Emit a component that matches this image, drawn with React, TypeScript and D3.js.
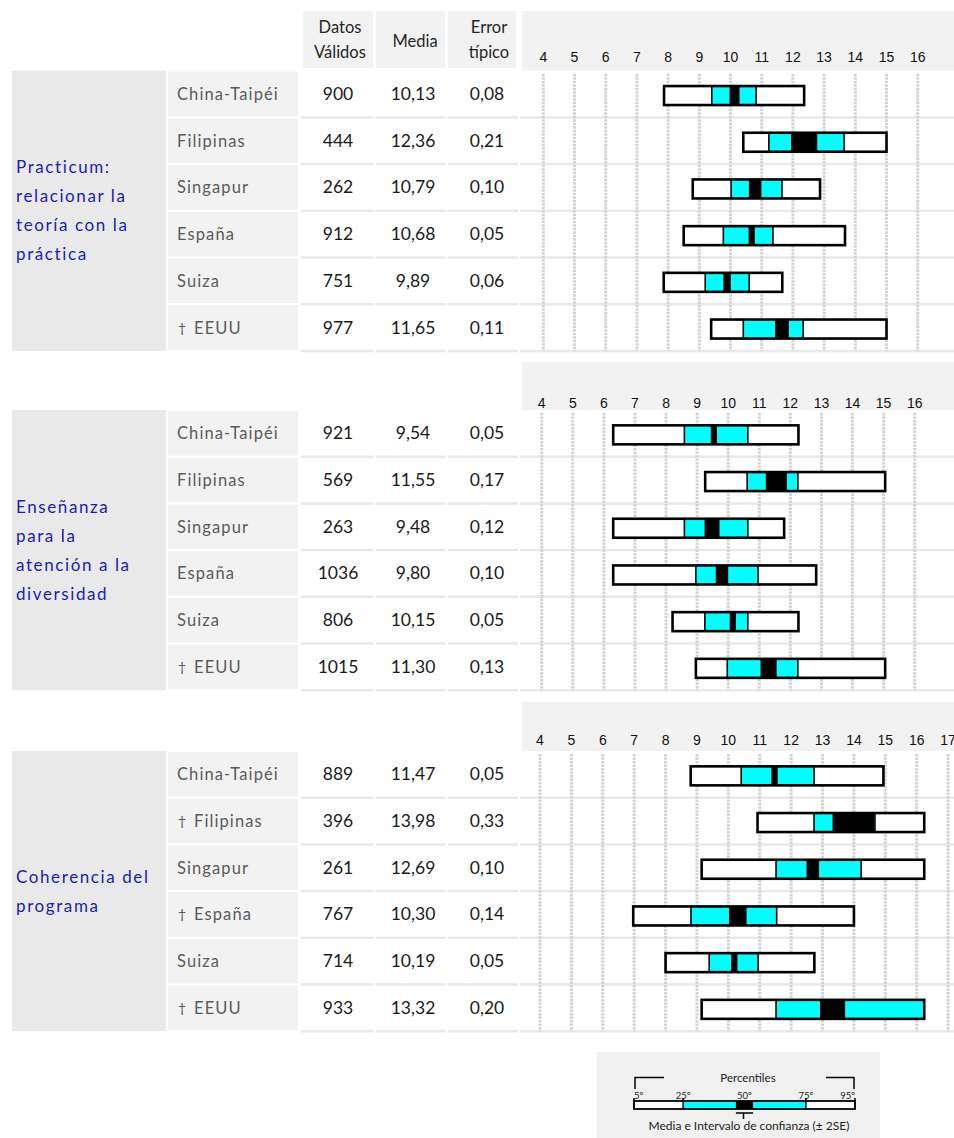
import React from "react";
import * as d3 from "d3";

// ---- data ----
const groupLabels: string[][] = [
  ["Practicum:", "relacionar la", "teoría con la", "práctica"],
  ["Enseñanza", "para la", "atención a la", "diversidad"],
  ["Coherencia del", "programa"],
];

const countryNames: string[][] = [
  ["China-Taipéi", "Filipinas", "Singapur", "España", "Suiza", "EEUU"],
  ["China-Taipéi", "Filipinas", "Singapur", "España", "Suiza", "EEUU"],
  ["China-Taipéi", "Filipinas", "Singapur", "España", "Suiza", "EEUU"],
];

// countries flagged with a dagger
const daggerFlags: boolean[][] = [
  [false, false, false, false, false, true],
  [false, false, false, false, false, true],
  [false, true, false, true, false, true],
];

const validN: number[][] = [
  [900, 444, 262, 912, 751, 977],
  [921, 569, 263, 1036, 806, 1015],
  [889, 396, 261, 767, 714, 933],
];

const means: number[][] = [
  [10.13, 12.36, 10.79, 10.68, 9.89, 11.65],
  [9.54, 11.55, 9.48, 9.8, 10.15, 11.3],
  [11.47, 13.98, 12.69, 10.3, 10.19, 13.32],
];

const stdErrors: number[][] = [
  [0.08, 0.21, 0.1, 0.05, 0.06, 0.11],
  [0.05, 0.17, 0.12, 0.1, 0.05, 0.13],
  [0.05, 0.33, 0.1, 0.14, 0.05, 0.2],
];

const p5: number[][] = [
  [7.87, 10.41, 8.79, 8.5, 7.86, 9.38],
  [6.3, 9.26, 6.3, 6.3, 8.21, 8.96],
  [8.8, 10.93, 9.15, 6.97, 8.0, 9.15],
];
const p25: number[][] = [
  [9.4, 11.23, 10.02, 9.77, 9.19, 10.41],
  [8.59, 10.61, 8.59, 8.96, 9.25, 9.97],
  [10.41, 12.73, 11.52, 8.81, 9.39, 11.52],
];
const p75: number[][] = [
  [10.82, 13.64, 11.65, 11.36, 10.6, 12.33],
  [10.63, 12.24, 10.63, 10.96, 10.63, 12.24],
  [12.73, 14.67, 14.23, 11.54, 10.95, 16.24],
];
const p95: number[][] = [
  [12.36, 15.0, 12.87, 13.67, 11.66, 15.0],
  [12.26, 15.05, 11.8, 12.83, 12.26, 15.05],
  [14.94, 16.24, 16.24, 14.0, 12.74, 16.24],
];

const tickValues: number[][] = [
  d3.range(4, 17),
  d3.range(4, 17),
  d3.range(4, 18),
];

const colHeaders = [["Datos", "Válidos"], ["Media"], ["Error", "típico"]];

// ---- layout ----
const W = 954;
const H = 1138;
const ROW_H = 46.7;
const panelLayout = [
  { headTop: 11, rowsTop: 70.7, x0: 543.3, x16: 917.7, tickY: 61.5 },
  { headTop: 362, rowsTop: 410, x0: 541.7, x16: 914.7, tickY: 408 },
  { headTop: 702, rowsTop: 751, x0: 540, x16: 916.7, tickY: 744.5 },
];
const CAT_X0 = 12, CAT_X1 = 166;
const CTRY_X0 = 168, CTRY_X1 = 298;
const DATA_X0 = 301, CHART_X0 = 522;
const COLS = [
  { x0: 303, x1: 373, cx: 338 },
  { x0: 376, x1: 445, cx: 413 },
  { x0: 448, x1: 516, cx: 487 },
];
const CYAN = "#00FFFF";
const BLUE = "#1C1CB2";
const SANS = "Lato, 'Open Sans', sans-serif";
const ARIAL = "'Liberation Sans', Arial, sans-serif";

const fmt = (v: number) => v.toFixed(2).replace(".", ",");

function Panel({ p }: { p: number }) {
  const L = panelLayout[p];
  const x = d3.scaleLinear().domain([4, 16]).range([L.x0, L.x16]);
  const n = countryNames[p].length;
  const rowsBottom = L.rowsTop + n * ROW_H;
  const labels = groupLabels[p];
  const catCenter = (L.rowsTop + rowsBottom) / 2;
  const lineGap = 29;
  const barH = 19;

  return (
    <g>
      {/* chart header band */}
      <rect x={CHART_X0} y={L.headTop} width={W - CHART_X0} height={L.rowsTop - L.headTop} fill="#f2f2f2" />
      {p === 0 &&
        COLS.map((c, i) => (
          <g key={i}>
            <rect x={c.x0} y={L.headTop} width={c.x1 - c.x0} height={57} fill="#f2f2f2" />
            {colHeaders[i].map((t, j) => (
              <text
                key={j}
                x={c.cx + 2}
                y={colHeaders[i].length === 1 ? 47 : 33 + j * 25}
                textAnchor="middle"
                fontFamily={SANS}
                fontSize={16.5}
                fill="#262626"
              >
                {t}
              </text>
            ))}
          </g>
        ))}
      {tickValues[p].map((t) => (
        <text key={t} x={x(t)} y={L.tickY} textAnchor="middle" fontFamily={ARIAL} fontSize={14} fill="#111">
          {t}
        </text>
      ))}

      {/* group label cell */}
      <rect x={CAT_X0} y={L.rowsTop} width={CAT_X1 - CAT_X0} height={rowsBottom - L.rowsTop} fill="#e9e9e9" />
      {labels.map((t, i) => (
        <text
          key={i}
          x={16}
          y={catCenter + (i - (labels.length - 1) / 2) * lineGap + 6}
          fontFamily={SANS}
          fontSize={17}
          letterSpacing={1.6}
          fill={BLUE}
        >
          {t}
        </text>
      ))}

      {/* rows */}
      {countryNames[p].map((name, r) => {
        const top = L.rowsTop + r * ROW_H;
        const cy = top + ROW_H / 2;
        return (
          <g key={r}>
            <rect x={CTRY_X0} y={top + 1} width={CTRY_X1 - CTRY_X0} height={ROW_H - 2} fill="#f2f2f2" />
            <line x1={DATA_X0} x2={W} y1={top + ROW_H} y2={top + ROW_H} stroke="#e9e9e9" strokeWidth={2.5} />
            {daggerFlags[p][r] ? (
              <text y={cy + 6} fontFamily={SANS} fontSize={16.5} letterSpacing={1.1} fill="#5a5a5a">
                <tspan x={178} fontSize={14} dy={-1}>†</tspan>
                <tspan x={194} dy={1}>{name}</tspan>
              </text>
            ) : (
              <text x={177} y={cy + 6} fontFamily={SANS} fontSize={16.5} letterSpacing={1.1} fill="#5a5a5a">
                {name}
              </text>
            )}
            <text x={COLS[0].cx} y={cy + 6} textAnchor="middle" fontFamily={SANS} fontSize={17.5} fill="#1a1a1a">
              {validN[p][r]}
            </text>
            <text x={COLS[1].cx} y={cy + 6} textAnchor="middle" fontFamily={SANS} fontSize={17.5} fill="#1a1a1a">
              {fmt(means[p][r])}
            </text>
            <text x={COLS[2].cx} y={cy + 6} textAnchor="middle" fontFamily={SANS} fontSize={17.5} fill="#1a1a1a">
              {fmt(stdErrors[p][r])}
            </text>
          </g>
        );
      })}

      {/* dotted vertical grid */}
      {tickValues[p].map((t) => (
        <line
          key={"g" + t}
          x1={x(t)}
          x2={x(t)}
          y1={L.rowsTop + 3}
          y2={rowsBottom}
          stroke="#d3d3d3"
          strokeWidth={3}
          strokeDasharray="2.5 1"
        />
      ))}
      {/* column gaps */}
      {[374.5, 446.5, 519].map((gx) => (
        <line key={gx} x1={gx} x2={gx} y1={L.rowsTop} y2={rowsBottom + 2} stroke="#fff" strokeWidth={2} />
      ))}

      {/* percentile bars */}
      {countryNames[p].map((_, r) => {
        const cy = L.rowsTop + r * ROW_H + ROW_H / 2;
        const by = cy + 1.5 - barH / 2;
        const lo = means[p][r] - 2 * stdErrors[p][r];
        const hi = means[p][r] + 2 * stdErrors[p][r];
        return (
          <g key={"b" + r}>
            <rect x={x(p5[p][r])} y={by} width={x(p95[p][r]) - x(p5[p][r])} height={barH} fill="#fff" />
            <rect x={x(p25[p][r])} y={by} width={x(p75[p][r]) - x(p25[p][r])} height={barH} fill={CYAN} />
            <rect x={x(lo)} y={by} width={x(hi) - x(lo)} height={barH} fill="#000" />
            {[p25[p][r], p75[p][r]].map((v, k) => (
              <line key={k} x1={x(v)} x2={x(v)} y1={by} y2={by + barH} stroke="#000" strokeWidth={1.6} />
            ))}
            <rect
              x={x(p5[p][r])}
              y={by}
              width={x(p95[p][r]) - x(p5[p][r])}
              height={barH}
              fill="none"
              stroke="#000"
              strokeWidth={2.6}
            />
          </g>
        );
      })}
    </g>
  );
}

// legend sample values (percentile positions on the key)
const legendMarks = [
  { label: "5º", v: 5 },
  { label: "25º", v: 25 },
  { label: "50º", v: 50 },
  { label: "75º", v: 75 },
  { label: "95º", v: 95 },
];
const legendCI = [46.5, 53.5];

function Legend() {
  const lx = d3.scaleLinear().domain([5, 95]).range([634, 855]);
  const by = 1101, bh = 8;
  return (
    <g>
      <rect x={597} y={1052} width={283} height={H - 1052} fill="#f0f0f0" />
      <text x={748} y={1082} textAnchor="middle" fontFamily={SANS} fontSize={11.5} fill="#222">
        Percentiles
      </text>
      <path d={`M${lx(5) + 1},1089 V1077.5 H664`} fill="none" stroke="#000" strokeWidth={1.5} />
      <path d={`M826,1077.5 H${lx(95) - 1} V1089`} fill="none" stroke="#000" strokeWidth={1.5} />
      {legendMarks.map((m, i) => (
        <text
          key={i}
          x={lx(m.v)}
          y={1099}
          textAnchor={i === 0 ? "start" : i === 4 ? "end" : "middle"}
          fontFamily={SANS}
          fontSize={9.5}
          fill="#222"
        >
          {m.label}
        </text>
      ))}
      <rect x={lx(5)} y={by} width={lx(95) - lx(5)} height={bh} fill="#fff" />
      <rect x={lx(25)} y={by} width={lx(75) - lx(25)} height={bh} fill={CYAN} />
      <rect x={lx(legendCI[0])} y={by} width={lx(legendCI[1]) - lx(legendCI[0])} height={bh} fill="#000" />
      {[5, 25, 75, 95].map((v) => (
        <line key={v} x1={lx(v)} x2={lx(v)} y1={by - 3} y2={by + bh} stroke="#000" strokeWidth={1.5} />
      ))}
      <rect x={lx(5)} y={by} width={lx(95) - lx(5)} height={bh} fill="none" stroke="#000" strokeWidth={1.8} />
      <line x1={lx(legendCI[0])} x2={lx(legendCI[1])} y1={1113} y2={1113} stroke="#000" strokeWidth={1.5} />
      <line x1={lx(50) - 1} x2={lx(50) - 1} y1={1113} y2={1119} stroke="#000" strokeWidth={1.5} />
      <text x={749} y={1130} textAnchor="middle" fontFamily={SANS} fontSize={12} fill="#222">
        Media e Intervalo de confianza (± 2SE)
      </text>
    </g>
  );
}

export default function App() {
  return (
    <svg
      width={W}
      height={H}
      viewBox={`0 0 ${W} ${H}`}
      style={{ position: "absolute", left: 0, top: 0, background: "#fff" }}
    >
      <rect width={W} height={H} fill="#fff" />
      {[0, 1, 2].map((p) => (
        <Panel key={p} p={p} />
      ))}
      <Legend />
    </svg>
  );
}
